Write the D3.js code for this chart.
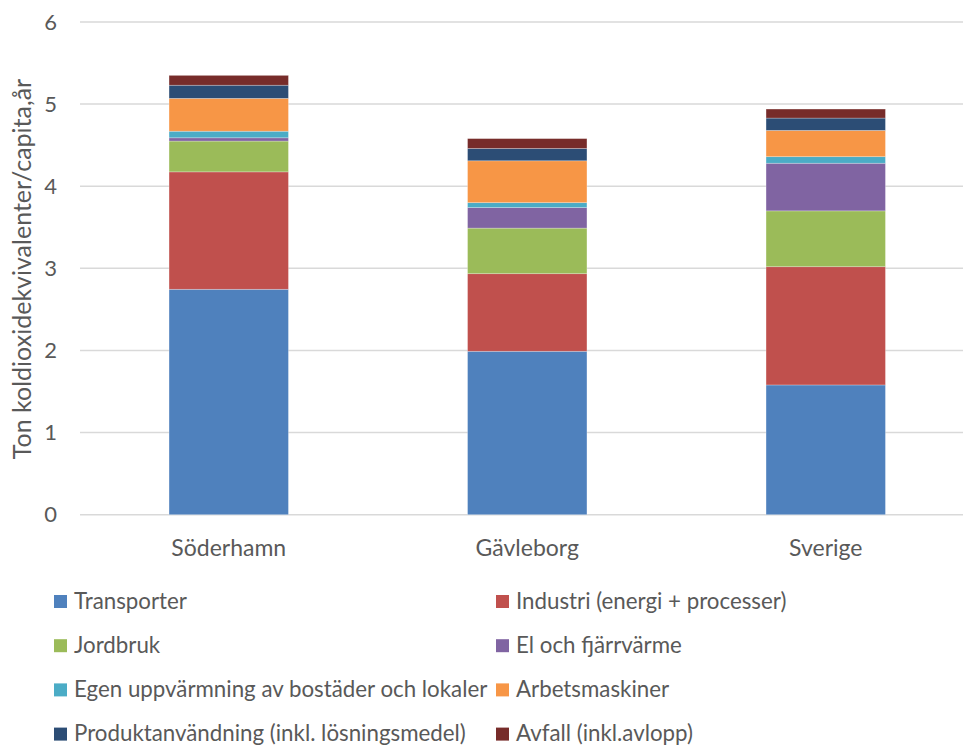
<!DOCTYPE html>
<html><head><meta charset="utf-8">
<script src="https://cdn.jsdelivr.net/npm/d3@7"></script>
<style>body{margin:0;background:#fff;} text{font-family:Lato,"Open Sans",sans-serif;fill:#595959;}</style>
</head><body>
<svg id="c" width="963" height="746"></svg>
<script>
const categories = ["Söderhamn", "Gävleborg", "Sverige"];
const seriesNames = ["Transporter", "Industri (energi + processer)", "Jordbruk", "El och fjärrvärme",
  "Egen uppvärmning av bostäder och lokaler", "Arbetsmaskiner", "Produktanvändning (inkl. lösningsmedel)", "Avfall (inkl.avlopp)"];
const transporter = [2.745, 1.99, 1.58];
const industri = [1.43, 0.945, 1.44];
const jordbruk = [0.375, 0.555, 0.68];
const elFjarrvarme = [0.04, 0.25, 0.58];
const egenUppvarmning = [0.08, 0.06, 0.08];
const arbetsmaskiner = [0.40, 0.51, 0.32];
const produktanvandning = [0.16, 0.15, 0.15];
const avfall = [0.12, 0.12, 0.11];
const yTicks = [0, 1, 2, 3, 4, 5, 6];
const colors = ["#4F81BD", "#C0504D", "#9BBB59", "#8064A2", "#4BACC6", "#F79646", "#2C4D75", "#772C2A"];

const seriesValues = [transporter, industri, jordbruk, elFjarrvarme, egenUppvarmning, arbetsmaskiner, produktanvandning, avfall];
const rows = categories.map((c, i) => {
  const r = {cat: c};
  seriesNames.forEach((s, j) => r[s] = seriesValues[j][i]);
  return r;
});
const stacked = d3.stack().keys(seriesNames)(rows);

const svg = d3.select("#c");
const x = d3.scaleBand().domain(categories).range([79.5, 975]).paddingInner(0.6).paddingOuter(0.3);
const y = d3.scaleLinear().domain([0, 6]).range([514.7, 22]);

// gridlines
svg.append("g").selectAll("line").data(yTicks).join("line")
  .attr("x1", 80).attr("x2", 975)
  .attr("y1", d => y(d)).attr("y2", d => y(d))
  .attr("stroke", "#D9D9D9").attr("stroke-width", 1.5);

// y tick labels
svg.append("g").selectAll("text").data(yTicks).join("text")
  .attr("x", 57).attr("y", d => y(d)).attr("dy", "0.35em")
  .attr("text-anchor", "end").style("font-size", "22px").text(d => d);

// bars
svg.append("g").selectAll("g").data(stacked).join("g")
  .attr("fill", (d, i) => colors[i])
  .selectAll("rect").data(d => d).join("rect")
  .attr("x", d => x(d.data.cat)).attr("width", x.bandwidth())
  .attr("y", d => y(d[1])).attr("height", d => y(d[0]) - y(d[1]))
  .attr("stroke", "rgba(255,255,255,0.35)").attr("stroke-width", 0.75);

// category labels
svg.append("g").selectAll("text").data(categories).join("text")
  .attr("x", d => x(d) + x.bandwidth() / 2).attr("y", 548).attr("dy", "0.35em")
  .attr("text-anchor", "middle").style("font-size", "23px").text(d => d);

// axis title
svg.append("text").attr("transform", "translate(22,269) rotate(-90)")
  .attr("text-anchor", "middle").attr("dy", "0.35em").style("font-size", "25px")
  .text("Ton koldioxidekvivalenter/capita,år");

// legend
const leg = svg.append("g").selectAll("g").data(seriesNames).join("g")
  .attr("transform", (d, i) => `translate(${i % 2 === 0 ? 54 : 496},${601 + Math.floor(i / 2) * 44.2})`);
leg.append("rect").attr("x", 0).attr("y", -6).attr("width", 13).attr("height", 13).attr("fill", (d, i) => colors[i]);
leg.append("text").attr("x", 20).attr("y", 0).attr("dy", "0.35em").style("font-size", "22.3px").text(d => d);
</script>
</body></html>
